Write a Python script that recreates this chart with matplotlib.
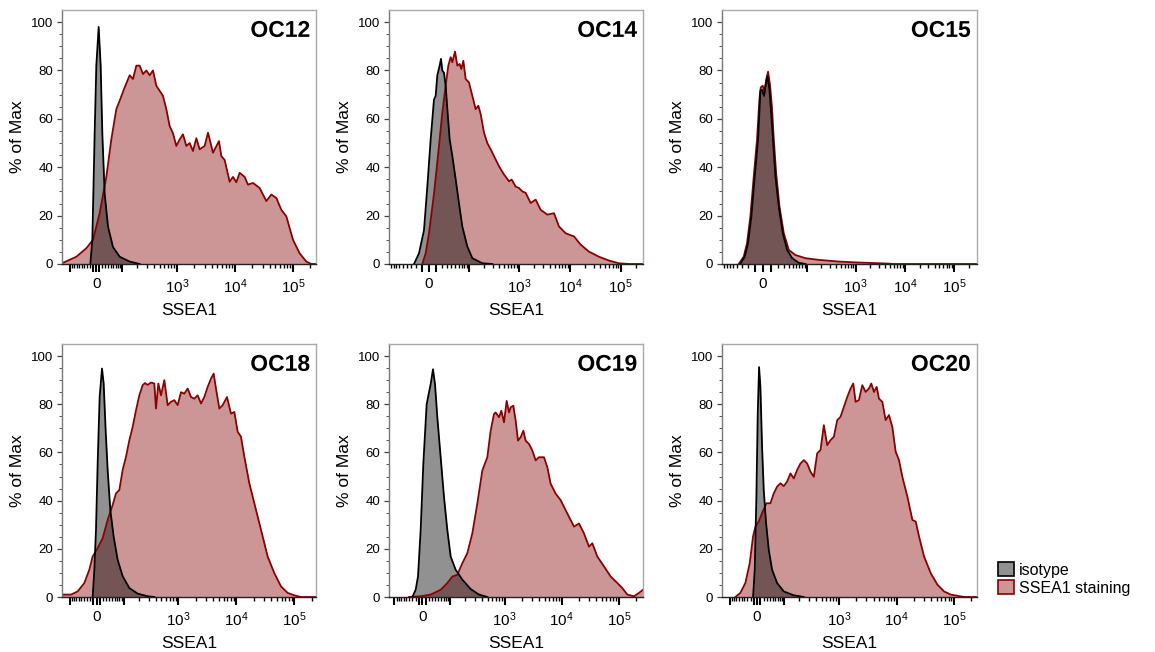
import numpy as np
import matplotlib
matplotlib.use("Agg")
import matplotlib.pyplot as plt
import matplotlib.patheffects as pe
from matplotlib.patches import Patch
from matplotlib.ticker import FixedLocator, FixedFormatter

plt.rcParams['font.family'] = ['Liberation Sans', 'DejaVu Sans']
plt.rcParams['mathtext.fontset'] = 'custom'
plt.rcParams['mathtext.rm'] = 'Liberation Sans'

# ---------------- data (x = display channel, y = % of Max) ----------------
samples = ["OC12", "OC14", "OC15", "OC18", "OC19", "OC20"]
x_label = "SSEA1"
y_label = "% of Max"
legend_labels = ["isotype", "SSEA1 staining"]

oc12_iso_x = [85, 91, 98, 103, 110, 116, 121, 128, 138, 153, 173, 203, 233]
oc12_iso_y = [0, 10, 54, 82, 98, 82, 54, 29, 15.5, 7, 3, 1, 0]
oc12_sse_x = [0, 43, 73, 93, 113, 133, 148, 163, 173, 188, 203, 213, 223, 233, 243, 253, 263, 273,
              283, 293, 303, 313, 323, 333, 343, 353, 363, 373, 383, 393, 403, 413, 428, 438, 453,
              471, 478, 488, 503, 513, 523, 533, 548, 558, 573, 593, 613, 628, 643, 658, 673, 693,
              713, 733, 748, 762]
oc12_sse_y = [0.3, 3, 6.5, 10, 21, 36, 51.5, 64, 67.5, 73, 78, 76.5, 82, 82, 78.5, 80, 78, 80,
              73.7, 71.6, 69.5, 64, 57, 54, 48.8, 51.5, 53.6, 48.8, 50, 46.7, 52, 47.4, 48.8, 54.3, 46,
              50.8, 44.6, 43, 34, 36, 33.8, 37.7, 36, 32.8, 33.5, 31.4, 26, 28.7, 27.3, 22.4, 19.7, 10,
              4.4, 1, 0, 0]

oc14_iso_x = [75, 90, 105, 115, 125, 135, 140, 145, 152, 156, 160, 165, 170, 175, 182, 190, 200,
              210, 220, 235, 250, 280, 310]
oc14_iso_y = [0, 4.4, 14, 32, 51.5, 68, 69.5, 78, 82, 84.8, 80, 79, 73.7, 64, 51.5, 44.6, 35,
              25, 15.5, 7.2, 2.4, 0.3, 0]
oc14_sse_x = [100, 110, 120, 135, 150, 160, 170, 178, 185, 190, 198, 205, 212, 217, 223, 230, 240,
              250, 260, 268, 275, 285, 295, 305, 315, 330, 345, 360, 368, 380, 390, 400, 410, 425,
              440, 455, 475, 495, 510, 530, 555, 575, 600, 630, 660, 690, 720, 762]
oc14_sse_y = [0, 4.4, 12.7, 29, 48.8, 62.6, 73.7, 82, 85.5, 83.4, 87.8, 82, 82.7, 80.6, 84, 76.5, 75,
              69.5, 64, 65.4, 62, 54.3, 50, 47.4, 44.6, 40.4, 37, 34.2, 34.9, 32, 31.4, 30, 29.4, 25.2,
              26.6, 22.4, 20.4, 21, 15.5, 12.7, 11.4, 8, 5.1, 3, 1.4, 0.3, 0, 0]

oc15_iso_x = [55, 68, 78, 88, 98, 108, 115, 120, 126, 130, 136, 142, 148, 154, 160, 170, 182, 195,
              210, 230, 250]
oc15_iso_y = [0, 3, 8.6, 19.7, 36, 51.5, 71.6, 72, 69.5, 73.7, 77.6, 72.3, 61, 48.8, 36, 23.8,
              12.7, 5.8, 2.4, 0.5, 0]
oc15_sse_x = [50, 65, 75, 85, 95, 105, 112, 116, 122, 128, 132, 138, 144, 150, 155, 162, 172, 185,
              200, 220, 250, 290, 350, 410, 500, 510, 762]
oc15_sse_y = [0, 3, 8.6, 19.7, 36, 51.5, 68, 73, 73.7, 71, 76, 79.5, 73.7, 64, 51.5, 37.7, 23.8,
              12.7, 5.8, 3.7, 2.4, 1.7, 1, 0.6, 0.15, 0, 0]

oc18_iso_x = [92, 97, 102, 107, 113, 120, 125, 131, 137, 145, 155, 167, 182, 202, 227, 257, 277]
oc18_iso_y = [0, 11.3, 27.9, 55.4, 83, 94.8, 88.6, 69, 52.7, 36, 25, 15.4, 8.6, 3.7, 1.4, 0.3, 0]
oc18_sse_x = [0, 27, 47, 67, 82, 92, 107, 122, 137, 152, 162, 172, 182, 192, 202, 212, 222, 232,
              242, 249, 257, 267, 277, 282, 289, 297, 307, 317, 327, 337, 347, 357, 367, 377, 387,
              397, 407, 417, 427, 437, 447, 455, 462, 472, 482, 495, 507, 517, 527, 537, 547, 562,
              577, 597, 617, 637, 657, 677, 697, 717, 762]
oc18_sse_y = [1, 1, 2.3, 5.8, 11.3, 16.8, 20.3, 24.4, 32, 38.2, 43, 44.4, 52.7, 58.2, 65, 70.6,
              77.5, 83.7, 87.9, 88.8, 88, 89, 88.6, 78.2, 88.6, 83.7, 90, 79.6, 81, 81.7, 79.6, 85,
              84.4, 86.5, 83, 82.3, 83.7, 80.3, 83, 87.2, 90.6, 92.7, 86.5, 78.2, 79.6, 83, 76.1,
              76.8, 68.6, 66.5, 58.2, 47.2, 38.9, 27.9, 16.8, 9.9, 4.4, 1.7, 0.7, 0, 0]

oc19_iso_x = [70, 80, 87, 95, 103, 113, 120, 125, 132, 138, 145, 155, 165, 175, 185, 200, 220,
              245, 270, 295]
oc19_iso_y = [0, 3, 8.5, 27.8, 55.3, 80, 84.9, 88.3, 94.5, 88.3, 74.6, 58, 41.5, 27.8, 16.8,
              11.3, 7.2, 3.3, 1, 0]
oc19_sse_x = [60, 95, 125, 155, 175, 190, 205, 220, 235, 250, 265, 280, 295, 305, 315, 320, 330,
              337, 345, 353, 360, 365, 373, 380, 387, 395, 403, 410, 420, 430, 440, 450, 465, 475,
              485, 500, 515, 525, 540, 555, 570, 585, 600, 610, 625, 645, 665, 685, 700, 715, 735,
              750, 762]
oc19_sse_y = [0, 0.3, 1, 3, 5.8, 8.5, 9.2, 14, 18.2, 26.4, 38.8, 52.5, 58, 69, 75.9, 76.6, 74.6,
              77.3, 72.5, 81.4, 76.6, 78.7, 79.4, 73.2, 64.9, 66.3, 69, 64.9, 63.5, 60.8, 56.7, 58,
              58, 53.9, 47, 42.9, 40.2, 37.4, 33.3, 29.2, 30.5, 26.4, 20.9, 22.3, 16.8, 12.7, 8.5,
              5.8, 3.7, 1, 0.3, 1.7, 3.0]

oc20_iso_x = [93, 98, 103, 107, 111, 115, 120, 125, 132, 140, 150, 165, 185, 215, 245]
oc20_iso_y = [0, 11.3, 41.7, 76, 95.4, 87.2, 62.3, 44.4, 30.6, 19.6, 11.3, 5.8, 2.3, 0.7, 0]
oc20_sse_x = [40, 55, 70, 83, 93, 100, 110, 120, 133, 145, 155, 165, 175, 185, 195, 205, 215, 225,
              235, 245, 255, 265, 275, 285, 295, 305, 315, 325, 335, 345, 355, 365, 375, 385, 393,
              400, 410, 420, 430, 440, 447, 455, 463, 470, 480, 490, 500, 510, 520, 530, 540, 555,
              570, 580, 590, 605, 625, 645, 665, 685, 705, 725, 762]
oc20_sse_y = [0, 1.7, 5.8, 14, 25.1, 29.2, 31.3, 34.8, 38.9, 38.9, 43, 45.8, 47.2, 46, 47.9, 51.3,
              49.2, 52.7, 55.4, 56.8, 55.4, 52, 49.9, 59.6, 61, 71.3, 63, 65.1, 66.5, 73.4, 74.8,
              78.9, 83, 86.5, 88.6, 81, 81.7, 87.9, 85.1, 86.5, 88.6, 85.1, 87.2, 82.3, 81, 73.4,
              75.5, 70.6, 60.3, 56.8, 49.9, 41.7, 32, 31.3, 25.1, 16.8, 9.9, 5.1, 2.3, 1, 0.5, 0, 0]

iso_x = [oc12_iso_x, oc14_iso_x, oc15_iso_x, oc18_iso_x, oc19_iso_x, oc20_iso_x]
iso_y = [oc12_iso_y, oc14_iso_y, oc15_iso_y, oc18_iso_y, oc19_iso_y, oc20_iso_y]
sse_x = [oc12_sse_x, oc14_sse_x, oc15_sse_x, oc18_sse_x, oc19_sse_x, oc20_sse_x]
sse_y = [oc12_sse_y, oc14_sse_y, oc15_sse_y, oc18_sse_y, oc19_sse_y, oc20_sse_y]

# biexponential-like axis parameters per panel: zero channel, channels/decade, linear width
axis_zero = [103, 120, 123, 104, 100, 105]
axis_decade = [174, 152, 147.5, 174, 171.5, 172.5]
axis_linw = [81.6, 33.2, 26.4, 77.9, 72.7, 76.0]
XMAX = 762
YMAX = 105

# ---------------- figure ----------------
W, H = 1155, 652
fig = plt.figure(figsize=(W / 100, H / 100), dpi=100)

cols = [(62, 316), (389, 643), (722, 976.5)]
rows = [(10, 264), (344, 597)]

iso_fill = (0, 0, 0, 0.43)
sse_fill = (0.52, 0, 0, 0.41)
sse_edge = '#8b0000'


def to_ch(v, z, d, a):
    return z + d * np.arcsinh(np.asarray(v, float) / a) / np.log(10)


for i in range(6):
    L, R = cols[i % 3]
    T, B = rows[i // 3]
    ax = fig.add_axes([L / W, 1 - B / H, (R - L) / W, (B - T) / H])
    ax.fill_between(sse_x[i], sse_y[i], 0, color=sse_fill, lw=0)
    ax.fill_between(iso_x[i], iso_y[i], 0, color=iso_fill, lw=0)
    ax.plot(sse_x[i], sse_y[i], color=sse_edge, lw=1.3)
    ax.plot(iso_x[i], iso_y[i], color='black', lw=1.3)
    ax.set_xlim(0, XMAX)
    ax.set_ylim(0, YMAX)

    z, d, a = axis_zero[i], axis_decade[i], axis_linw[i]
    major_vals = [-100, -10, 0, 10, 100, 1e3, 1e4, 1e5]
    major_lab = ['', '', '0', '', '', r'$\mathregular{10^3}$', r'$\mathregular{10^4}$',
                 r'$\mathregular{10^5}$']
    mpos, mlab = [], []
    for v, lab in zip(major_vals, major_lab):
        p = float(to_ch(v, z, d, a))
        if 0 <= p <= XMAX:
            mpos.append(p)
            mlab.append(lab)
    minor_vals = []
    for dec in [10, 100, 1000, 10000, 100000]:
        for m in range(2, 10):
            minor_vals.append(m * dec)
            if dec <= 100:
                minor_vals.append(-m * dec)
    mnpos = [float(p) for p in to_ch(minor_vals, z, d, a) if 0 <= p <= XMAX]
    ax.xaxis.set_major_locator(FixedLocator(mpos))
    ax.xaxis.set_major_formatter(FixedFormatter(mlab))
    ax.xaxis.set_minor_locator(FixedLocator(mnpos))

    ax.set_yticks(np.arange(0, 101, 20))
    ax.set_yticks(np.arange(0, 101, 5), minor=True)

    ax.tick_params(axis='x', which='major', direction='out', length=5.5, width=1.5,
                   color='black', labelsize=11, pad=4)
    ax.tick_params(axis='x', which='minor', direction='out', length=3, width=1.0, color='black')
    ax.tick_params(axis='y', which='major', direction='out', length=3.5, width=0.9,
                   color='#444444', labelsize=9.5, pad=3)
    ax.tick_params(axis='y', which='minor', direction='out', length=2, width=0.7, color='#555555')

    for s in ['top', 'right']:
        ax.spines[s].set_color('#aaaaaa')
        ax.spines[s].set_linewidth(1.0)
    ax.spines['left'].set_color('#777777')
    ax.spines['left'].set_linewidth(1.0)
    ax.spines['bottom'].set_color('#222222')
    ax.spines['bottom'].set_linewidth(1.0)

    ax.set_xlabel(x_label, fontsize=12.5, labelpad=5)
    ax.set_ylabel(y_label, fontsize=12.5, labelpad=4)
    t = ax.text(0.976, 0.965, samples[i], transform=ax.transAxes, ha='right', va='top',
                fontsize=16.5, fontweight='bold', color='black')
    t.set_path_effects([pe.withStroke(linewidth=2.5, foreground='white')])

handles = [Patch(facecolor=iso_fill, edgecolor='black', lw=1.2),
           Patch(facecolor=sse_fill, edgecolor=sse_edge, lw=1.2)]
fig.legend(handles, legend_labels, loc='upper left', bbox_to_anchor=(998 / W, 1 - 562 / H),
           frameon=False, fontsize=11.5, handlelength=1.0, handleheight=1.0, handletextpad=0.3,
           labelspacing=0.15, borderpad=0, borderaxespad=0)

fig.savefig('out.png', dpi=100)
